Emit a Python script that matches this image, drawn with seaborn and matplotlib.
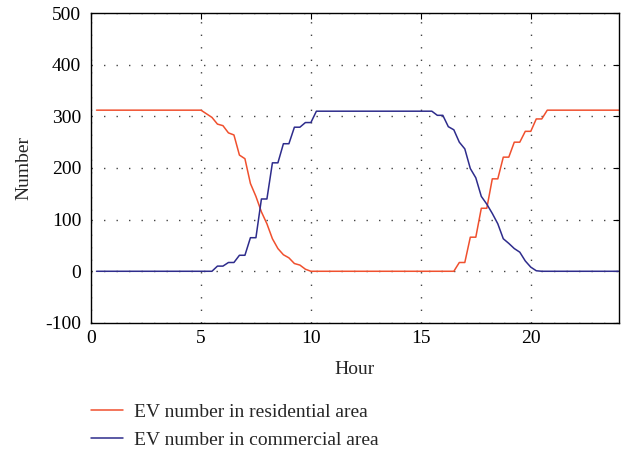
import numpy as np
import pandas as pd
import matplotlib
matplotlib.use("Agg")
import matplotlib.pyplot as plt
import seaborn as sns

# =========================
# DATA
# =========================

hours = np.arange(0.25, 24.01, 0.25)

residential = ([312] * 20
               + [305, 298, 285, 282, 268, 264, 225, 218, 170, 145,
                  115, 92, 63, 44, 32, 26, 15, 12, 4, 0]
               + [0] * 26
               + [17, 17, 66, 66, 122, 122, 179, 179, 221, 221,
                  250, 250, 271, 271, 295, 295]
               + [312] * 14)

commercial = ([0] * 22
              + [10, 10, 17, 17, 31, 31, 65, 65, 140, 140,
                 210, 210, 247, 247, 279, 279, 288, 288]
              + [310] * 22
              + [302, 302, 280, 274, 250, 237, 199, 181, 145, 130,
                 112, 92, 63, 54, 44, 37, 20, 8, 1]
              + [0] * 15)

labels = ["EV number in residential area", "EV number in commercial area"]

df = pd.DataFrame({
    "Hour": np.concatenate([hours, hours]),
    "Number": np.concatenate([residential, commercial]),
    "series": [labels[0]] * len(hours) + [labels[1]] * len(hours),
})

# =========================
# PLOT
# =========================

sns.set_style("white")
plt.rcParams["font.family"] = ["Liberation Serif", "DejaVu Serif"]
plt.rcParams["axes.unicode_minus"] = False

fig = plt.figure(figsize=(6.32, 4.51), dpi=100)
ax = fig.add_axes([0.144, 0.284, 0.835, 0.687])

palette = {labels[0]: "#f0502e", labels[1]: "#2e2c8c"}
sns.lineplot(data=df, x="Hour", y="Number", hue="series", palette=palette,
             linewidth=1.1, ax=ax, legend=False)

ax.set_xlim(0, 24)
ax.set_ylim(-100, 500)
ax.set_xticks([0, 5, 10, 15, 20])
ax.set_yticks([-100, 0, 100, 200, 300, 400, 500])
ax.grid(True, color="#444444", linestyle=(0, (1, 8)), linewidth=1.0)
ax.tick_params(direction="in", top=True, right=True, length=4,
               labelsize=14, colors="black")
ax.tick_params(axis="y", pad=7)
ax.tick_params(axis="x", pad=5)
for s in ax.spines.values():
    s.set_color("black")
    s.set_linewidth(1.0)

ax.set_xlabel("Hour", fontsize=14, labelpad=10)
ax.set_ylabel("Number", fontsize=14, labelpad=9)

handles = [plt.Line2D([], [], color=palette[l], linewidth=1.1) for l in labels]
fig.legend(handles, labels, loc="upper left", bbox_to_anchor=(0.131, 0.123),
           borderaxespad=0, frameon=False, fontsize=14, handlelength=1.65,
           handletextpad=0.6, labelspacing=0.55)

fig.savefig("out.png", dpi=100)
